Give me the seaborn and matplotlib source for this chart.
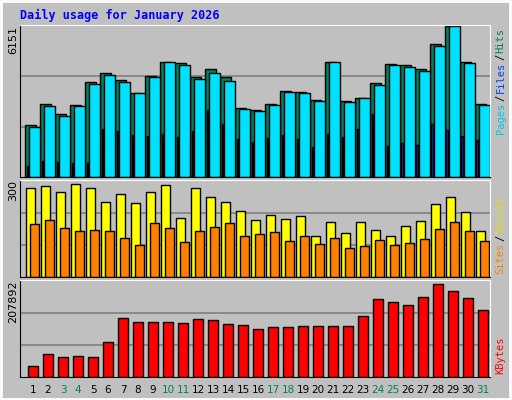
import numpy as np
import matplotlib
matplotlib.use('Agg')
import matplotlib.pyplot as plt
import seaborn as sns

# Daily values for January 2026
days = np.arange(1, 32)
hits = [2120, 2970, 2570, 2930, 3870, 4230, 3950, 3420, 4110, 4680, 4640, 4070, 4390,
        4070, 2810, 2730, 2970, 3500, 3460, 3140, 4680, 3090, 3220, 3830, 4600, 4560,
        4390, 5400, 6151, 4680, 2970]
files = [2040, 2890, 2480, 2890, 3780, 4150, 3870, 3420, 4070, 4680, 4560, 3990, 4230,
         3910, 2770, 2690, 2930, 3460, 3420, 3100, 4680, 3050, 3220, 3750, 4560, 4480,
         4310, 5320, 6151, 4640, 2930]
pages = [450, 650, 610, 570, 570, 1950, 1870, 1710, 1670, 1750, 1630, 1870, 2730,
         2160, 1550, 1420, 1590, 1710, 1550, 1220, 1750, 1630, 1950, 2560, 1260, 1380,
         1300, 2150, 1900, 1670, 1510]
visits = [276, 282, 263, 288, 276, 232, 257, 229, 263, 285, 183, 276, 248, 232, 204,
          176, 192, 179, 189, 127, 170, 136, 170, 145, 127, 158, 173, 226, 250, 201, 142]
sites = [164, 176, 152, 142, 145, 142, 121, 99, 167, 152, 108, 142, 155, 167, 127,
         133, 139, 111, 127, 102, 121, 90, 96, 114, 99, 105, 118, 149, 170, 142, 111]
kbytes = [23570, 49290, 42860, 45000, 42860, 75000, 126430, 117860, 117860, 117860,
          115710, 124290, 122140, 113570, 111430, 102860, 107140, 107140, 109290,
          109290, 109290, 109290, 130710, 167140, 160710, 154290, 171430, 199290,
          184290, 169290, 143570]
weekend = [3, 4, 10, 11, 17, 18, 24, 25, 31]

bg = '#c0c0c0'
fig = plt.figure(figsize=(5.12, 4.0), dpi=100, facecolor=bg)
fig.patches.append(plt.Rectangle((0.002, 0.003), 0.994, 0.994, transform=fig.transFigure,
                                 fill=False, edgecolor='white', linewidth=2))
mono = 'DejaVu Sans Mono'

def panel(rect, top):
    ax = fig.add_axes(rect, facecolor=bg)
    ax.set_ylim(0, top * 1.005)
    for f in (1 / 3, 2 / 3):
        ax.axhline(top * f, color='#808080', linewidth=1.2, zorder=0)
    for s in ax.spines.values():
        s.set_color('black')
    ax.spines['top'].set_color('white')
    ax.spines['right'].set_color('white')
    return ax

def bars(ax, off, vals, width, color):
    sns.barplot(x=days + off, y=vals, native_scale=True, width=width, color=color,
                edgecolor='black', linewidth=1, saturation=1, ax=ax, zorder=2)

ax1 = panel([0.039, 0.5575, 0.918, 0.38], 6151)
bars(ax1, -0.17, hits, 0.7, '#00805c')
bars(ax1, 0.10, files, 0.7, '#00e0ff')
bars(ax1, -0.37, pages, 0.12, '#0040ff')

ax2 = panel([0.039, 0.3075, 0.918, 0.2425], 300)
bars(ax2, -0.17, visits, 0.6, '#ffff00')
bars(ax2, 0.13, sites, 0.6, '#ff8000')

ax3 = panel([0.039, 0.0575, 0.918, 0.2425], 207892)
bars(ax3, 0.0, kbytes, 0.7, '#ff0000')

for ax in (ax1, ax2, ax3):
    ax.set_xlim(0.13, 31.47)
    ax.set_xticks([])
    ax.set_yticks([])
    ax.set_xlabel('')
    ax.set_ylabel('')

for d in days:
    ax3.text(d, -0.08, str(d), transform=ax3.get_xaxis_transform(), ha='center', va='top',
             fontsize=7.5, color='#00805c' if d in weekend else 'black')

fig.text(0.039, 0.962, 'Daily usage for January 2026', color='#0000ff', fontsize=8.5,
         fontweight='bold', family=mono, va='center')
for y, s in ((0.935, '6151'), (0.55, '300'), (0.3, '207892')):
    fig.text(0.026, y, s, rotation=90, ha='center', va='top', fontsize=8)

renderer = fig.canvas.get_renderer()

def side(parts, y0):
    y = y0
    for s, c in parts:
        t = fig.text(0.978, y, s, rotation=90, ha='center', va='bottom', color=c,
                     fontsize=7.5, family=mono)
        bb = t.get_window_extent(renderer)
        y += bb.height / fig.bbox.height + 0.004

side([('Pages', '#00c8e0'), ('/', 'black'), ('Files', '#0040ff'), ('/', 'black'),
      ('Hits', '#00805c')], 0.665)
side([('Sites', '#ff8000'), ('/', 'black'), ('Visits', '#e0e000')], 0.315)
side([('KBytes', '#ff0000')], 0.065)

fig.savefig('out.png', dpi=100, facecolor=bg)
